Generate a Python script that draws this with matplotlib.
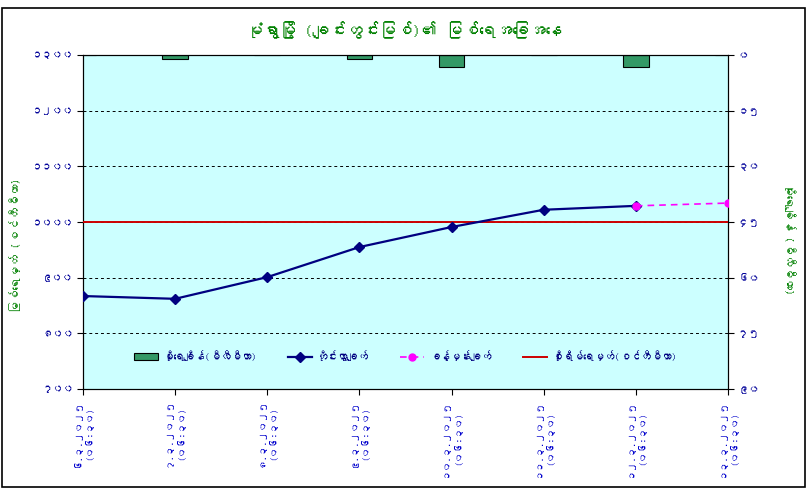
import matplotlib
matplotlib.use("Agg")
import matplotlib.pyplot as plt
import matplotlib.font_manager as fm
from matplotlib.ft2font import FT2Font
from matplotlib.patches import Rectangle
import numpy as np

# ---- data ----
title = "မုံရွာမြို့ (ချင်းတွင်းမြစ်)၏ မြစ်ရေအခြေအနေ"
dates = ["၆.၃.၂၀၂၅", "၇.၃.၂၀၂၅", "၈.၃.၂၀၂၅", "၉.၃.၂၀၂၅",
         "၁၀.၃.၂၀၂၅", "၁၁.၃.၂၀၂၅", "၁၂.၃.၂၀၂၅", "၁၃.၃.၂၀၂၅"]
times = ["(၀၆:၃၀)"] * 8
observed = [867, 862, 901, 955, 991, 1022, 1029, None]
forecast = [None, None, None, None, None, None, 1029, 1034]
rainfall = [0, 1.0, 0, 1.0, 3.3, 0, 3.3, 0]
danger_level = 1000
left_ticks = [700, 800, 900, 1000, 1100, 1200, 1300]
left_labels = ["၇၀၀", "၈၀၀", "၉၀၀", "၁၀၀၀", "၁၁၀၀", "၁၂၀၀", "၁၃၀၀"]
right_ticks = [0, 15, 30, 45, 60, 75, 90]
right_labels = ["၀", "၁၅", "၃၀", "၄၅", "၆၀", "၇၅", "၉၀"]
left_title = "မြစ်ရေမှတ် (စင်တီမီတာ)"
right_title = "မိုးရေချိန် (မီလီမီတာ)"
legend_labels = ["မိုးရေချိန်(မီလီမီတာ)", "တိုင်းထွာချက်", "ခန့်မှန်းချက်", "စိုးရိမ်ရေမှတ်(စင်တီမီတာ)"]

# ---- font with Myanmar glyphs, if any ----
my_font = None
for f in fm.fontManager.ttflist:
    try:
        cmap = FT2Font(f.fname).get_charmap()
        if 0x1019 in cmap and 0x1040 in cmap:
            my_font = f.name
            break
    except Exception:
        pass
families = ([my_font] if my_font else []) + ["DejaVu Sans"]
plt.rcParams['font.family'] = families

W, H = 809, 491
fig = plt.figure(figsize=(W / 100, H / 100), dpi=100)
fig.patch.set_facecolor("white")
# outer frame
fig.add_artist(Rectangle((2 / W, 1 - 487 / H), 803 / W, 479 / H, transform=fig.transFigure,
                         fill=False, edgecolor="black", linewidth=1.2))

left, right, top, bottom = 83, 728, 55, 389
ax = fig.add_axes([left / W, 1 - bottom / H, (right - left) / W, (bottom - top) / H])

x = np.arange(len(dates))
navy = "#000080"
tick_blue = "#000099"
green = "#008000"

ax2 = ax.twinx()
ax.set_zorder(ax2.get_zorder() + 1)
ax.patch.set_visible(False)
ax2.patch.set_visible(True)
ax2.patch.set_facecolor("#CCFFFF")

bars = ax2.bar(x, rainfall, width=0.28, color="#339966", edgecolor="black", linewidth=0.8)
ax2.set_ylim(90, 0)
ax2.set_yticks(right_ticks)
ax2.set_yticklabels(right_labels, color=tick_blue, fontsize=8, fontweight="bold")
ax2.set_ylabel(right_title, color=green, fontsize=8.5, rotation=-90, va="center",
               fontweight="bold")
ax2.yaxis.set_label_coords(1.096, 0.45)

ax.set_ylim(700, 1300)
ax.set_xlim(0, 7)
ax.set_yticks(left_ticks)
ax.set_yticklabels(left_labels, color=tick_blue, fontsize=7.5, fontweight="bold")
ax.set_ylabel(left_title, color=green, fontsize=8.5, va="center", fontweight="bold")
ax.yaxis.set_label_coords(-0.105, 0.43)
for yv in left_ticks[1:-1]:
    ax.axhline(yv, color="black", linestyle=(0, (3, 3)), linewidth=0.7, zorder=1)

obs_x = [xi for xi, v in zip(x, observed) if v is not None]
obs_y = [v for v in observed if v is not None]
fc_x = [xi for xi, v in zip(x, forecast) if v is not None]
fc_y = [v for v in forecast if v is not None]
l_obs, = ax.plot(obs_x, obs_y, color=navy, marker="D", markersize=5, linewidth=1.6, zorder=4)
l_fc, = ax.plot(fc_x, fc_y, color="#FF00FF", marker="o", markersize=5, linewidth=1.2,
                linestyle=(0, (4, 3)), zorder=4)
l_dng = ax.axhline(danger_level, color="#CC0000", linewidth=1.4, zorder=3)

ax.set_xticks(x)
ax.set_xticklabels([f"{d}\n{t}" for d, t in zip(dates, times)], rotation=90,
                   color="#0000CC", fontsize=7, fontweight="bold",
                   va="top", ha="center", linespacing=1.4)
ax.tick_params(axis="x", direction="out", length=4, pad=3)
ax.tick_params(axis="y", direction="out", length=4, pad=3)
ax2.tick_params(axis="y", direction="out", length=4, pad=3)

for s in ax.spines.values():
    s.set_color("black")
for s in ax2.spines.values():
    s.set_color("black")

leg = ax.legend([bars, l_obs, l_fc, l_dng], legend_labels, loc="lower center",
                bbox_to_anchor=(0.5, 0.055), ncol=4, frameon=False,
                prop={"size": 7.5, "weight": "bold"},
                handlelength=2.3, handletextpad=0.5, columnspacing=3.0, labelcolor=navy)

fig.text(0.5, 1 - 30 / H, title, ha="center", va="center", color=green,
         fontsize=12, fontweight="bold")

fig.savefig("out.png", dpi=100)
